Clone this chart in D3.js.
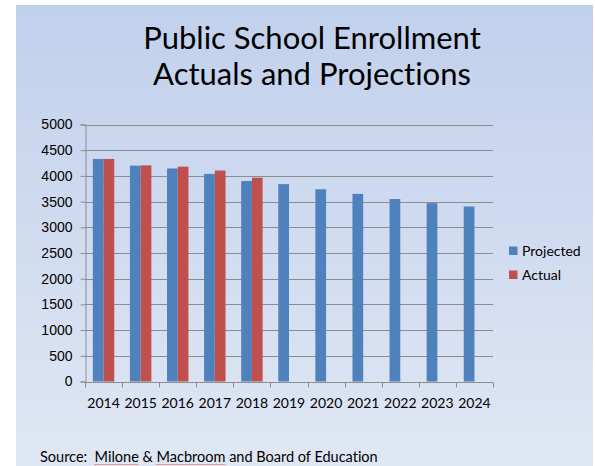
<!DOCTYPE html>
<html>
<head>
<meta charset="utf-8"/>
<script src="https://cdn.jsdelivr.net/npm/d3@7"></script>
<style>
html, body { margin: 0; padding: 0; background: #fff; }
svg { display: block; font-family: Lato, "Open Sans", sans-serif; font-variant-ligatures: none; }
.grid line { stroke: #8c8c8c; stroke-width: 1; }
.axis path, .axis line { stroke: #8c8c8c; }
.axis text { fill: #000; font-size: 14px; }
</style>
</head>
<body>
<svg id="chart" width="595" height="466"></svg>
<script>
// ---- data
var years = ["2014", "2015", "2016", "2017", "2018", "2019", "2020", "2021", "2022", "2023", "2024"];
var projected = [4330, 4200, 4145, 4040, 3900, 3840, 3740, 3650, 3550, 3470, 3405];
var actual = [4330, 4205, 4180, 4105, 3965, null, null, null, null, null, null];
var seriesNames = ["Projected", "Actual"];
var seriesColors = ["#4f81bd", "#c0504d"];
var yTicks = [0, 500, 1000, 1500, 2000, 2500, 3000, 3500, 4000, 4500, 5000];
var titleLines = ["Public School Enrollment", "Actuals and Projections"];
var sourceText = "Source:  Milone & Macbroom and Board of Education";
var misspelled = ["Milone", "Macbroom"];

var svg = d3.select("#chart");

// background panel with soft vertical gradient
var defs = svg.append("defs");
var grad = defs.append("linearGradient").attr("id", "bg")
    .attr("x1", 0).attr("y1", 0).attr("x2", 0).attr("y2", 1);
grad.append("stop").attr("offset", "0%").attr("stop-color", "#c1d0ec");
grad.append("stop").attr("offset", "100%").attr("stop-color", "#e0e7f4");

svg.append("rect")
    .attr("x", 16).attr("y", 5)
    .attr("width", 577).attr("height", 461)
    .attr("fill", "url(#bg)");

// title
svg.append("g").selectAll("text")
    .data(titleLines)
  .enter().append("text")
    .attr("x", 312)
    .attr("y", function(d, i) { return 49 + i * 36; })
    .attr("text-anchor", "middle")
    .attr("font-size", 31)
    .attr("fill", "#000")
    .text(function(d) { return d; });

// scales
var x = d3.scaleBand().domain(years).range([85, 493]).paddingInner(0).paddingOuter(0);
var x1 = d3.scaleBand().domain(seriesNames).range([0, x.bandwidth()]).paddingInner(0).paddingOuter(0.73);
var y = d3.scaleLinear().domain([0, 5000]).range([381.5, 124.5]);

// gridlines
svg.append("g").attr("class", "grid")
    .selectAll("line")
    .data(yTicks.slice(1))
  .enter().append("line")
    .attr("x1", 85).attr("x2", 493)
    .attr("y1", function(d) { return Math.round(y(d)) + 0.5; })
    .attr("y2", function(d) { return Math.round(y(d)) + 0.5; });

// bars
var rows = years.map(function(yr, i) {
  return { year: yr, values: [projected[i], actual[i]] };
});

svg.append("g").selectAll("g")
    .data(rows)
  .enter().append("g")
    .attr("transform", function(d) { return "translate(" + x(d.year) + ",0)"; })
  .selectAll("rect")
    .data(function(d) {
      return d.values.map(function(v, k) { return { key: seriesNames[k], value: v, k: k }; })
        .filter(function(e) { return e.value != null; });
    })
  .enter().append("rect")
    .attr("x", function(d) { return x1(d.key); })
    .attr("width", x1.bandwidth())
    .attr("y", function(d) { return y(d.value); })
    .attr("height", function(d) { return y(0) - y(d.value); })
    .attr("fill", function(d) { return seriesColors[d.k]; });

// y axis
svg.append("g").attr("class", "axis")
    .attr("transform", "translate(85.5,0)")
    .call(d3.axisLeft(y).tickValues(yTicks).tickSize(5).tickPadding(8).tickFormat(d3.format("d")));

// x axis with ticks at category boundaries
var xAxisG = svg.append("g").attr("class", "axis")
    .attr("transform", "translate(0," + (Math.round(y(0)) + 0.5) + ")");
xAxisG.append("line").attr("x1", 85).attr("x2", 493).attr("stroke", "#8c8c8c");
xAxisG.selectAll("line.tick")
    .data(years.concat(["end"]))
  .enter().append("line").attr("class", "tick")
    .attr("x1", function(d, i) { return Math.round(85 + i * x.step()) + 0.5; })
    .attr("x2", function(d, i) { return Math.round(85 + i * x.step()) + 0.5; })
    .attr("y1", 0).attr("y2", 5);
xAxisG.selectAll("text")
    .data(years)
  .enter().append("text")
    .attr("x", function(d) { return x(d) + x.bandwidth() / 2; })
    .attr("y", 25)
    .attr("text-anchor", "middle")
    .text(function(d) { return d; });

// legend
var legend = svg.append("g").selectAll("g")
    .data(seriesNames)
  .enter().append("g")
    .attr("transform", function(d, i) { return "translate(509," + (251 + i * 24) + ")"; });
legend.append("rect")
    .attr("x", 0).attr("y", -4.5)
    .attr("width", 8.5).attr("height", 8.5)
    .attr("fill", function(d, i) { return seriesColors[i]; });
legend.append("text")
    .attr("x", 13).attr("y", 5)
    .attr("font-size", 14)
    .attr("fill", "#000")
    .text(function(d) { return d; });

// source note, with the spell-check squiggles under the names
var src = svg.append("text")
    .attr("x", 40).attr("y", 462)
    .attr("font-size", 14.5)
    .attr("fill", "#000")
    .style("white-space", "pre")
    .text(sourceText);

var node = src.node();
misspelled.forEach(function(w) {
  var i0 = sourceText.indexOf(w);
  var x0 = 40 + node.getSubStringLength(0, i0);
  var len = node.getSubStringLength(i0, w.length);
  svg.append("line")
    .attr("x1", x0).attr("x2", x0 + len)
    .attr("y1", 464.5).attr("y2", 464.5)
    .attr("stroke", "#e05050")
    .attr("stroke-width", 1)
    .attr("stroke-dasharray", "1,1");
});
</script>
</body>
</html>
